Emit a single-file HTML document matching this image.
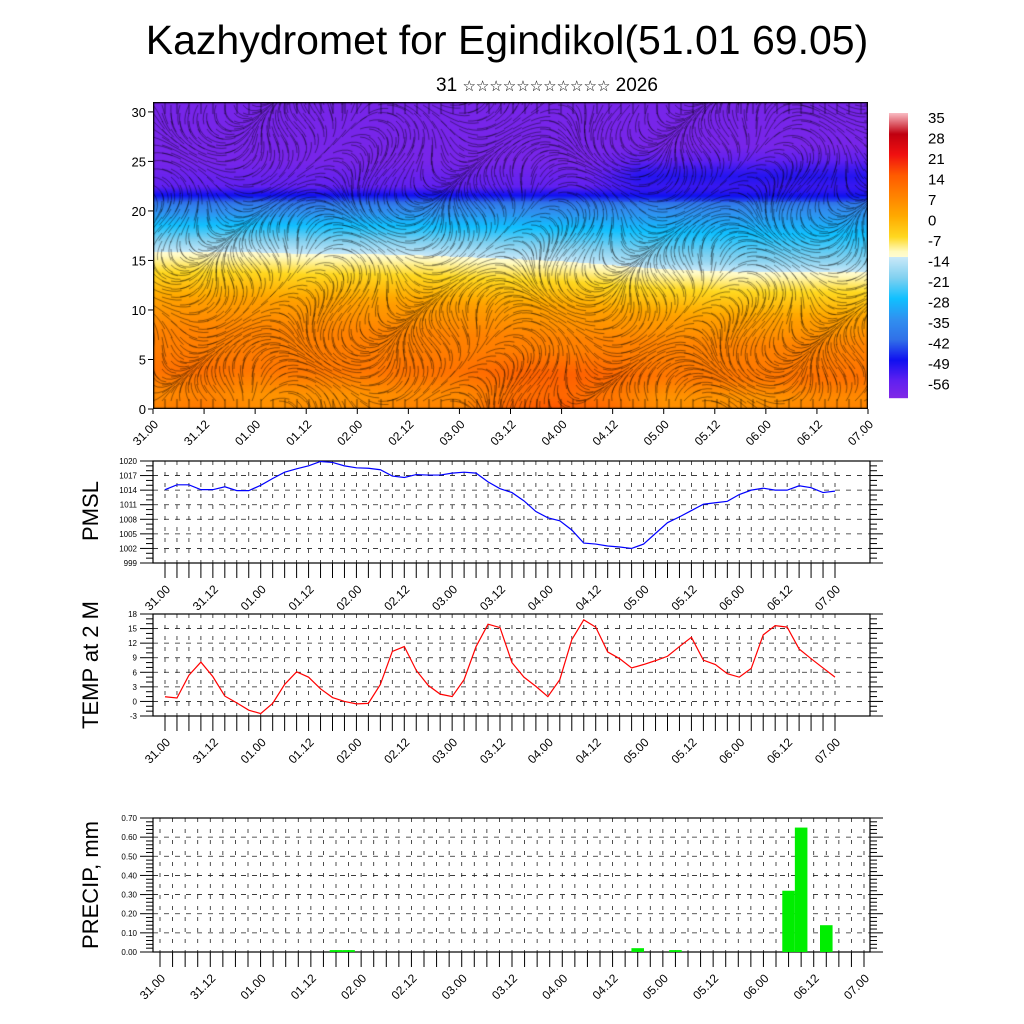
<!DOCTYPE html>
<html><head><meta charset="utf-8">
<style>
body{margin:0;background:#fff;width:1024px;height:1024px;overflow:hidden;font-family:"Liberation Sans","DejaVu Sans",sans-serif}
#wrap{position:relative;width:1024px;height:1024px}
canvas{position:absolute;left:153px;top:102px}
svg{position:absolute;left:0;top:0}
</style></head><body>
<div id="wrap">
<canvas id="cs" width="715" height="307"></canvas>
<svg id="sv" width="1024" height="1024"></svg>
</div>
<script>
// ---- data ----
const timeLabels=["31.00","31.12","01.00","01.12","02.00","02.12","03.00","03.12","04.00","04.12","05.00","05.12","06.00","06.12","07.00"];
const pmsl=[1014.1,1015.1,1015.1,1014.1,1014.1,1014.7,1013.9,1013.9,1015.0,1016.4,1017.7,1018.4,1019.0,1019.9,1019.7,1019.0,1018.6,1018.5,1018.2,1016.9,1016.6,1017.2,1017.1,1017.1,1017.5,1017.7,1017.5,1015.7,1014.3,1013.5,1011.8,1009.6,1008.3,1007.7,1005.8,1003.1,1002.9,1002.5,1002.3,1002.0,1002.9,1005.1,1007.3,1008.5,1009.8,1011.1,1011.4,1011.7,1013.1,1014.0,1014.4,1014.0,1014.0,1014.9,1014.5,1013.5,1013.8];
const temp2m=[0.96,0.7,5.4,8.1,5.1,1.1,-0.3,-1.8,-2.5,-0.4,3.5,6.1,5.0,2.6,0.8,0.0,-0.5,-0.4,3.5,10.3,11.3,6.4,3.3,1.5,1.0,4.5,11.3,15.9,15.2,8.0,5.0,3.1,1.0,4.5,12.7,16.8,15.3,10.2,8.8,6.9,7.6,8.4,9.3,11.3,13.2,8.5,7.6,5.7,5.0,6.8,13.7,15.6,15.3,10.8,8.8,6.9,5.0];
const precipIdx=[14,15,38,41,50,51,53];
const precipVal=[0.01,0.01,0.02,0.01,0.32,0.65,0.14];
const pmslTicks=[999,1002,1005,1008,1011,1014,1017,1020];
const tempTicks=[-3,0,3,6,9,12,15,18];
const precipTicks=[0,0.1,0.2,0.3,0.4,0.5,0.6,0.7];
const cbLabels=[35,28,21,14,7,0,-7,-14,-21,-28,-35,-42,-49,-56];
const heightTicks=[0,5,10,15,20,25,30];
const boundary=[15.5,15.5,15.5,15.3,15.3,15.2,15.0,14.8,14.6,14.2,13.8,13.6,13.5,13.5,13.5];
const surfWarm=[1,2,0,0,0,1,1,4,5,3,0,0,0,1,1];

const NS="http://www.w3.org/2000/svg";
const sv=document.getElementById('sv');
function el(tag,attrs,parent){const e=document.createElementNS(NS,tag);for(const k in attrs)e.setAttribute(k,attrs[k]);(parent||sv).appendChild(e);return e;}
function txt(s,x,y,size,anchor,parent,rot){const t=el('text',{x:x,y:y,'font-size':size,'text-anchor':anchor||'start','font-family':'Liberation Sans, sans-serif',fill:'#000'},parent);if(rot!==undefined)t.setAttribute('transform','rotate('+rot+' '+x+' '+y+')');t.textContent=s;return t;}

let t=txt("Kazhydromet for Egindikol(51.01 69.05)",507,54,41,'middle');

t=el('text',{x:547,y:91,'font-size':19,'text-anchor':'middle','font-family':'Liberation Sans, DejaVu Sans, sans-serif'});

t.innerHTML='31 <tspan font-size="15">☆☆☆☆☆☆☆☆☆☆☆</tspan> 2026';

// ---- colour map ----
const cstops=[[35,[248,184,192]],[28,[192,0,16]],[21,[240,16,16]],[14,[255,90,0]],[7,[255,130,0]],[0,[255,170,0]],[-7,[255,216,32]],[-12,[255,250,192]],[-13.9,[255,252,210]],[-14,[200,232,248]],[-21,[128,208,240]],[-28,[16,192,255]],[-35,[48,144,240]],[-42,[48,112,232]],[-49,[16,16,240]],[-56,[96,32,240]],[-62,[130,40,230]]];
function cmap(v){if(v>=cstops[0][0])return cstops[0][1];for(let i=0;i<cstops.length-1;i++){const a=cstops[i],b=cstops[i+1];if(v<=a[0]&&v>=b[0]){const f=(a[0]-v)/(a[0]-b[0]);return [0,1,2].map(k=>a[1][k]+(b[1][k]-a[1][k])*f);}}return cstops[cstops.length-1][1];}
const profH=[0,1.5,4,8,11,13.5,15.5,17,19,20.5,21.5,22.5,25,31];
const profT=[5,4,9,7,2,-6,-12,-20,-30,-38,-48,-56,-60,-60];
function interp(xs,ys,x){if(x<=xs[0])return ys[0];for(let i=0;i<xs.length-1;i++){if(x<=xs[i+1]){const f=(x-xs[i])/(xs[i+1]-xs[i]);return ys[i]+(ys[i+1]-ys[i])*f;}}return ys[ys.length-1];}
const cs=document.getElementById('cs');const ctx=cs.getContext('2d');
const W=715,H=307,HMAX=31;
const img=ctx.createImageData(W,H);
for(let px=0;px<W;px++){
  const u=px/W*14;const i0=Math.min(13,Math.floor(u));const f=u-i0;
  const bnd=boundary[i0]+(boundary[i0+1]-boundary[i0])*f;
  const sw=surfWarm[i0]+(surfWarm[i0+1]-surfWarm[i0])*f;
  for(let py=0;py<H;py++){
    const h=HMAX*(1-py/H);
    const w=h<15?1:(h>20?0:(20-h)/5);
    const hh=h+(15.5-bnd)*w*Math.min(1,h/8);
    let v=interp(profH,profT,hh);
    if(h<6)v+=sw*(1-h/6)*2;
    if(h>21&&h<26.5&&u>8.5){const k=Math.min(1,(u-8.5));const d=Math.abs(h-23.5)/3;v=v+(-50-v)*(1-d)*k*0.9;}
    const c=cmap(v);const o=(py*W+px)*4;
    img.data[o]=c[0];img.data[o+1]=c[1];img.data[o+2]=c[2];img.data[o+3]=255;
  }
}
ctx.putImageData(img,0,0);
function ang(x,y){return Math.sin(x*0.03+y*0.01)*1.4+Math.cos(y*0.05+x*0.013)*0.9;}
ctx.strokeStyle='rgba(0,0,0,0.6)';ctx.lineWidth=0.7;
for(let gx=0;gx<W;gx+=9){for(let gy=3;gy<H;gy+=8){
  let x=gx,y=gy;ctx.beginPath();ctx.moveTo(x,y);
  for(let s=0;s<4;s++){const a=ang(x,y);x+=Math.cos(a)*5;y+=Math.sin(a)*5;ctx.lineTo(x,y);}
  ctx.stroke();
}}
ctx.strokeStyle='rgba(0,0,0,0.8)';
for(let gx=0;gx<W;gx+=12){ctx.beginPath();ctx.moveTo(gx,H);ctx.lineTo(gx,H-10);ctx.stroke();ctx.beginPath();ctx.moveTo(gx,0);ctx.lineTo(gx,12);ctx.stroke();}
ctx.strokeStyle='#000';ctx.lineWidth=1.5;ctx.strokeRect(0.5,0.5,W-1,H-1);

const tp=el('g',{});
const yTop=h=>409-h/HMAX*307;
heightTicks.forEach(h=>{const y=yTop(h);el('line',{x1:148,x2:153,y1:y,y2:y,stroke:'#000'},tp);const l=txt(String(h),146,y+5,13,'end',tp);
});
timeLabels.forEach((s,i)=>{const x=153+i*715/14;el('line',{x1:x,x2:x,y1:409,y2:414,stroke:'#000'},tp);const l=txt(s,x+6,425,12,'end',tp,-45);
});

const cb=el('g',{});
const cbTop=113,cbBot=398;
for(let y=cbTop;y<cbBot;y++){const v=35-(y-cbTop)/(cbBot-cbTop)*(35+62);const c=cmap(v);el('rect',{x:889,y:y,width:19,height:1.2,fill:'rgb('+c.map(Math.round).join(',')+')'},cb);}
cbLabels.forEach((v,i)=>{const l=txt(String(v),928,123+i*20.5,15,'start',cb);});

function panel(name,top,bot,x0,x1,ticks,vals,color,title,titleY,fmt,minorPer){
  const g=el('g',{});
  const lo=ticks[0],hi=ticks[ticks.length-1];
  const Y=v=>bot-(v-lo)/(hi-lo)*(bot-top);
  const X=i=>x0+i*(x1-x0)/56;
  ticks.forEach(v=>{const y=Y(v);el('line',{x1:153,x2:870,y1:y,y2:y,stroke:'#222','stroke-dasharray':'5,6','stroke-width':0.8},g);});
  for(let i=0;i<=56;i++){const x=X(i);el('line',{x1:x,x2:x,y1:top,y2:bot,stroke:'#222','stroke-dasharray':'4,7','stroke-width':0.8},g);
    el('line',{x1:x,x2:x,y1:bot,y2:bot+15,stroke:'#000','stroke-width':1},g);}
  el('rect',{x:153,y:top,width:717,height:bot-top,fill:'none',stroke:'#000','stroke-width':1.2},g);
  const n=(ticks.length-1)*minorPer;
  for(let k=0;k<=n;k++){const y=top+k*(bot-top)/n;const major=k%minorPer===0;const L=major?13:7;
    el('line',{x1:153-L,x2:153,y1:y,y2:y,stroke:'#000'},g);el('line',{x1:870,x2:870+L,y1:y,y2:y,stroke:'#000'},g);}
  ticks.forEach(v=>{const l=txt(fmt(v),137,Y(v)+3,8,'end',g);});
  timeLabels.forEach((s,i)=>{const x=X(i*4);const l=txt(s,x+6,bot+27,12,'end',g,-45);});
  const tt=txt(title,98,titleY,22,'middle',g,-90);
  if(vals){const p=el('polyline',{points:vals.map((v,i)=>X(i)+','+Y(v)).join(' '),fill:'none',stroke:color,'stroke-width':1.2},g);
    }
  return {X,Y,g};
}
panel('pmsl',461,563,165,835,pmslTicks,pmsl,'#0000ff','PMSL',511,v=>String(v),3);
panel('temp',614,716,165,835,tempTicks,temp2m,'#ff0000','TEMP at 2 M',665,v=>String(v),3);
const pp=panel('precip',818,952,160,864,precipTicks,null,'','PRECIP, mm',885,v=>v.toFixed(2),5);
const bw=(864-160)/56;
precipIdx.forEach((idx,k)=>{const x=pp.X(idx)-bw/2;const y=pp.Y(precipVal[k]);
  const r=el('rect',{x:x,y:y,width:bw,height:952-y,fill:'#00ee00'},pp.g);
  });
</script>
</body></html>
